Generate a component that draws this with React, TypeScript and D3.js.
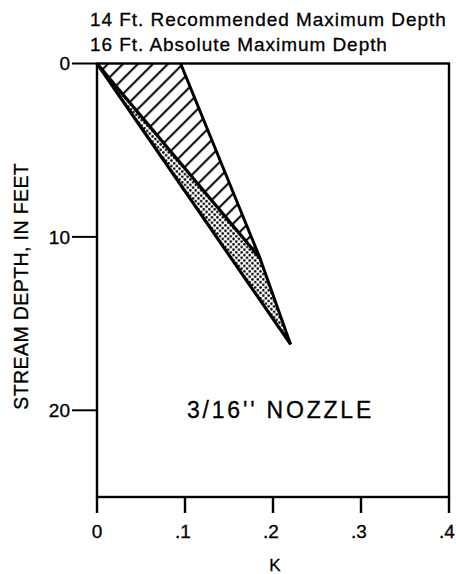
import React, { useEffect, useRef } from 'react';
import * as d3 from 'd3';

// Stream depth vs K chart for a 3/16" nozzle.
// Hatched wedge = recommended range, stippled band = range up to absolute max.

const W = 456;
const H = 574;
const MARGIN = { top: 63.5, right: 7, bottom: 77, left: 97 };

const kTicks = [0, 0.1, 0.2, 0.3, 0.4];
const kTickLabels = ['0', '.1', '.2', '.3', '.4'];
const depthTicks = [0, 10, 20];
const titleLines = ['14 Ft. Recommended Maximum Depth', '16 Ft. Absolute Maximum Depth'];

// [K, depth in ft]
const outerEdge: [number, number][] = [[0.095, 0], [0.185, 11.2], [0.22, 16.2]];
const middleEdge: [number, number][] = [[0, 0], [0.185, 11.2]];
const lowerEdge: [number, number][] = [[0, 0], [0.22, 16.2]];

const FONT = "'Liberation Sans', Arial, sans-serif";

const App = () => {
  const svgRef = useRef<SVGSVGElement>(null);

  useEffect(() => {
    const svg = d3.select(svgRef.current);
    svg.selectAll('*').remove();

    const x = d3.scaleLinear().domain([0, 0.4]).range([MARGIN.left, W - MARGIN.right]);
    const y = d3.scaleLinear().domain([0, 25]).range([MARGIN.top, H - MARGIN.bottom]);

    const defs = svg.append('defs');
    const hatch = defs.append('pattern')
      .attr('id', 'hatch')
      .attr('patternUnits', 'userSpaceOnUse')
      .attr('width', 10.6)
      .attr('height', 10.6)
      .attr('patternTransform', 'rotate(45)');
    hatch.append('line')
      .attr('x1', 5).attr('y1', 0).attr('x2', 5).attr('y2', 10.6)
      .attr('stroke', '#000').attr('stroke-width', 2);

    const dots = defs.append('pattern')
      .attr('id', 'dots')
      .attr('patternUnits', 'userSpaceOnUse')
      .attr('width', 5.4)
      .attr('height', 5.4);
    [[1.35, 1.35], [4.05, 4.05]].forEach(([cx, cy]) => {
      dots.append('circle').attr('cx', cx).attr('cy', cy).attr('r', 1.25).attr('fill', '#000');
    });

    const line = d3.line<[number, number]>().x(d => x(d[0])).y(d => y(d[1]));

    // hatched wedge: origin -> top -> outer edge to junction -> back along middle edge
    const junctionIdx = outerEdge.findIndex(p => p[0] === middleEdge[1][0]);
    const hatchPoly = [...middleEdge.slice(0, 1), ...outerEdge.slice(0, junctionIdx + 1)];
    svg.append('path')
      .attr('d', line(hatchPoly) + 'Z')
      .attr('fill', 'url(#hatch)');

    // stippled band: middle edge -> rest of outer edge -> back along lower edge
    const stipPoly = [...middleEdge, ...outerEdge.slice(junctionIdx + 1), ...lowerEdge.slice().reverse()];
    svg.append('path')
      .attr('d', line(stipPoly) + 'Z')
      .attr('fill', 'url(#dots)');

    [outerEdge, middleEdge, lowerEdge].forEach((pts, i) => {
      svg.append('path')
        .attr('d', line(pts))
        .attr('fill', 'none')
        .attr('stroke', '#000')
        .attr('stroke-width', i === 0 ? 3 : 3.2)
        .attr('stroke-linejoin', 'round');
    });

    // frame
    const [x0, x1] = x.range();
    const [y0, y1] = y.range();
    svg.append('rect')
      .attr('x', x0).attr('y', y0)
      .attr('width', x1 - x0).attr('height', y1 - y0)
      .attr('fill', 'none').attr('stroke', '#000').attr('stroke-width', 2.4);

    // y ticks
    const yAx = svg.append('g');
    depthTicks.forEach(t => {
      yAx.append('line')
        .attr('x1', x0 - 25).attr('x2', x0)
        .attr('y1', y(t)).attr('y2', y(t))
        .attr('stroke', '#000').attr('stroke-width', 2);
      yAx.append('text')
        .attr('x', x0 - 27).attr('y', y(t))
        .attr('dy', '0.36em')
        .attr('text-anchor', 'end')
        .style('font', `19px ${FONT}`)
        .style('stroke', '#000').style('stroke-width', 0.3)
        .text(t);
    });

    // x ticks
    const xAx = svg.append('g');
    kTicks.forEach((t, i) => {
      xAx.append('line')
        .attr('x1', x(t)).attr('x2', x(t))
        .attr('y1', y1).attr('y2', y1 + 16)
        .attr('stroke', '#000').attr('stroke-width', 2.4);
      xAx.append('text')
        .attr('x', x(t) - (i === 0 ? 0 : 2)).attr('y', y1 + 41)
        .attr('text-anchor', 'middle')
        .style('font', `19px ${FONT}`)
        .style('stroke', '#000').style('stroke-width', 0.3)
        .text(kTickLabels[i]);
    });

    svg.append('text')
      .attr('x', x(0.2) + 2).attr('y', H - 3)
      .attr('text-anchor', 'middle')
      .style('font', `17px ${FONT}`)
      .style('stroke', '#000').style('stroke-width', 0.3)
      .text('K');

    svg.append('text')
      .attr('transform', `translate(28,${(y0 + y1) / 2 + 6}) rotate(-90)`)
      .attr('text-anchor', 'middle')
      .style('font', `19.5px ${FONT}`)
      .style('letter-spacing', '0.4px')
      .style('stroke', '#000').style('stroke-width', 0.3)
      .text('STREAM DEPTH, IN FEET');

    titleLines.forEach((s, i) => {
      svg.append('text')
        .attr('x', 90).attr('y', 26 + i * 24.5)
        .style('font', `19px ${FONT}`)
        .style('letter-spacing', '0.95px')
        .style('stroke', '#000').style('stroke-width', 0.3)
        .text(s);
    });

    svg.append('text')
      .attr('x', 187).attr('y', 418)
      .style('font', `23px ${FONT}`)
      .style('letter-spacing', '2.8px')
      .style('stroke', '#000').style('stroke-width', 0.3)
      .text("3/16'' NOZZLE");
  }, []);

  return (
    <svg ref={svgRef} width={W} height={H}
      style={{ position: 'absolute', left: 0, top: 0, background: '#fff' }} />
  );
};

export default App;
